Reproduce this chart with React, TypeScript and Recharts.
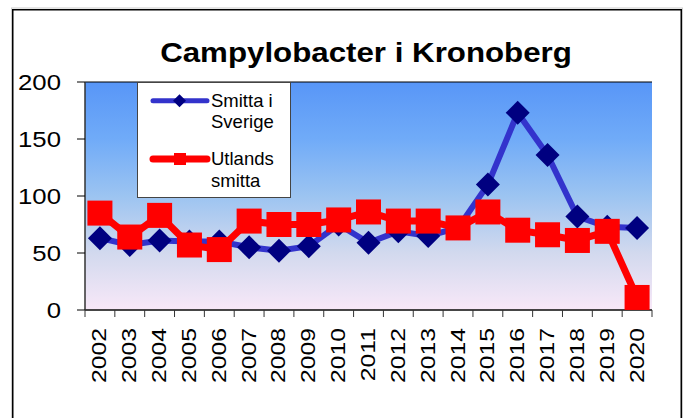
import React from 'react';
import { LineChart, Line, XAxis, YAxis, CartesianGrid, Legend } from 'recharts';

const years = ['2002','2003','2004','2005','2006','2007','2008','2009','2010','2011','2012','2013','2014','2015','2016','2017','2018','2019','2020'];
const sverige = [63, 57, 61, 60, 60, 55, 52, 56, 75, 59, 69, 65, 72, 110, 173, 136, 82, 73, 72];
const utlands = [85, 64, 83, 57, 53, 78, 75, 75, 79, 86, 78, 78, 72, 86, 70, 66, 61, 69, 11];
const yTicks = [0, 50, 100, 150, 200];
const seriesNames = ['Smitta i Sverige', 'Utlands smitta'];

const data = years.map((y, i) => ({ year: y, sverige: sverige[i], utlands: utlands[i] }));

const W = 686;
const H = 418;
const PLOT_LEFT = 85;
const PLOT_RIGHT = 652;
const PLOT_TOP = 82;
const PLOT_BOTTOM = 310;
const HALF_BAND = (PLOT_RIGHT - PLOT_LEFT) / years.length / 2;
const FONT = '"Liberation Sans", Arial, sans-serif';

const Diamond = (props: any) => {
  const { cx, cy } = props;
  const s = 12;
  if (cx == null || cy == null) return null;
  return <path d={`M${cx},${cy - s}L${cx + s},${cy}L${cx},${cy + s}L${cx - s},${cy}Z`} fill="#000080" />;
};

const Square = (props: any) => {
  const { cx, cy } = props;
  const s = 12.5;
  if (cx == null || cy == null) return null;
  return <rect x={cx - s} y={cy - s} width={2 * s} height={2 * s} fill="#ff0000" />;
};

const YTick = (props: any) => {
  const { y, payload } = props;
  return (
    <text transform={`translate(61, ${y + 8}) scale(1.12, 1)`} textAnchor="end" fontSize={23} fontFamily={FONT} fill="#000">
      {payload.value}
    </text>
  );
};

const XTick = (props: any) => {
  const { x, payload, index } = props;
  const last = index === years.length - 1;
  return (
    <g>
      <line x1={x - HALF_BAND} x2={x - HALF_BAND} y1={PLOT_BOTTOM} y2={PLOT_BOTTOM + 7} stroke="#333" />
      {last && <line x1={x + HALF_BAND} x2={x + HALF_BAND} y1={PLOT_BOTTOM} y2={PLOT_BOTTOM + 7} stroke="#333" />}
      <text transform={`translate(${x - 1}, 328) rotate(-90) scale(1.18, 1)`} y={7.5} textAnchor="end" fontSize={21} fontFamily={FONT} fill="#000">
        {payload.value}
      </text>
    </g>
  );
};

const LegendContent = (props: any) => {
  const payload = props.payload || [];
  const rows = [
    { lines: ['Smitta i', 'Sverige'], y: 18.7, shape: 'diamond', color: '#3333cc', sw: 5 },
    { lines: ['Utlands', 'smitta'], y: 77, shape: 'square', color: '#ff0000', sw: 7 },
  ];
  return (
    <svg width={154} height={116} style={{ display: 'block' }}>
      <rect x={0.5} y={0.5} width={153} height={115} fill="#fff" stroke="#444" />
      {rows.map((r, i) => {
        const color = payload[i] ? payload[i].color : r.color;
        return (
          <g key={i}>
            <line x1={16} x2={70} y1={r.y} y2={r.y} stroke={color} strokeWidth={r.sw} strokeLinecap="round" />
            {r.shape === 'diamond' ? (
              <path d={`M42.5,${r.y - 6.5}L49,${r.y}L42.5,${r.y + 6.5}L36,${r.y}Z`} fill="#000080" />
            ) : (
              <rect x={37} y={r.y - 6} width={12} height={12} fill="#ff0000" />
            )}
            <text x={74} y={r.y + 6} fontSize={18.5} fontFamily={FONT} fill="#000">{r.lines[0]}</text>
            <text x={74} y={r.y + 27.5} fontSize={18.5} fontFamily={FONT} fill="#000">{r.lines[1]}</text>
          </g>
        );
      })}
    </svg>
  );
};

export default function App() {
  return (
    <div style={{ position: 'absolute', left: 0, top: 0, width: W, height: H, overflow: 'hidden', background: '#fff' }}>
      <LineChart
        width={W}
        height={H}
        data={data}
        margin={{ top: PLOT_TOP, right: W - PLOT_RIGHT, bottom: 0, left: 0 }}
      >
        <defs>
          <linearGradient id="plotBg" x1="0" y1="0" x2="0" y2="1">
            <stop offset="0%" stopColor="#5896f7" />
            <stop offset="25%" stopColor="#70abf8" />
            <stop offset="50%" stopColor="#9cc4f1" />
            <stop offset="75%" stopColor="#d2d9ee" />
            <stop offset="100%" stopColor="#f8e8f8" />
          </linearGradient>
        </defs>
        <CartesianGrid vertical={false} stroke="#000" strokeOpacity={1} fill="url(#plotBg)" fillOpacity={1} />
        <XAxis
          dataKey="year"
          height={H - PLOT_BOTTOM}
          tick={<XTick />}
          tickLine={false}
          axisLine={{ stroke: '#333', strokeWidth: 1.5 }}
          interval={0}
          padding={{ left: HALF_BAND, right: HALF_BAND }}
        />
        <YAxis
          yAxisId="left"
          width={PLOT_LEFT}
          domain={[0, 200]}
          ticks={yTicks}
          tick={<YTick />}
          tickSize={8}
          tickLine={{ stroke: '#000' }}
          axisLine={{ stroke: '#333', strokeWidth: 1.5 }}
        />
        <YAxis
          yAxisId="right"
          orientation="right"
          width={0}
          domain={[0, 200]}
          tick={false}
          tickLine={false}
          axisLine={{ stroke: '#888', strokeWidth: 2 }}
        />
        <Legend
          layout="vertical"
          align="center"
          verticalAlign="middle"
          content={<LegendContent />}
          wrapperStyle={{ left: 137, top: PLOT_TOP, width: 154, height: 116 }}
        />
        <Line
          yAxisId="left"
          dataKey="sverige"
          name={seriesNames[0]}
          stroke="#3333cc"
          strokeWidth={6}
          dot={<Diamond />}
          activeDot={false}
          isAnimationActive={false}
        />
        <Line
          yAxisId="left"
          dataKey="utlands"
          name={seriesNames[1]}
          stroke="#ff0000"
          strokeWidth={7}
          dot={<Square />}
          activeDot={false}
          isAnimationActive={false}
        />
      </LineChart>
      <svg width={W} height={H} style={{ position: 'absolute', left: 0, top: 0, pointerEvents: 'none' }}>
        <rect x={11.5} y={8} width={671} height={430} fill="none" stroke="#ccc" strokeWidth={1} />
        <rect x={12.75} y={9.75} width={668.5} height={430} fill="none" stroke="#000" strokeWidth={1.5} />
        <text transform={`translate(366, 61.7) scale(1.117, 1)`} textAnchor="middle" fontSize={28} fontWeight="bold" fontFamily={FONT} fill="#000">
          Campylobacter i Kronoberg
        </text>
      </svg>
    </div>
  );
}
